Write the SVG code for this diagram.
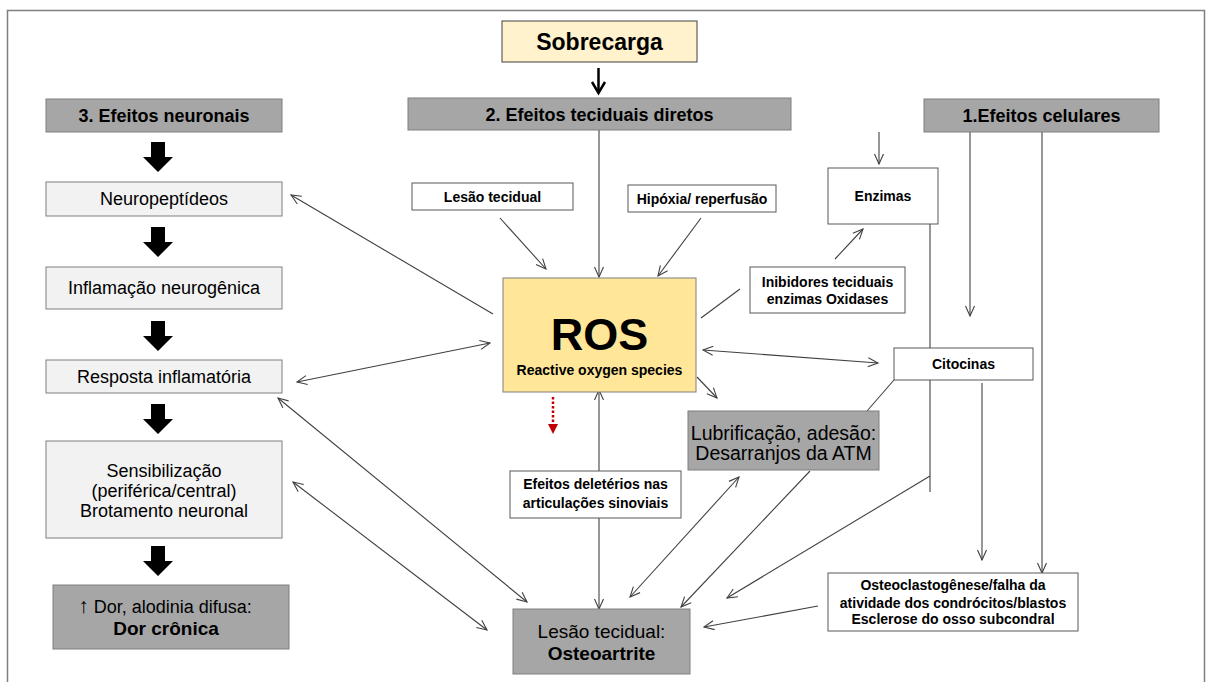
<svg xmlns="http://www.w3.org/2000/svg" width="1207" height="682" viewBox="0 0 1207 682">
<defs>
<style>
.t{font-family:"Liberation Sans",Arial,sans-serif;fill:#000;text-anchor:middle}
.b{font-weight:bold}
.gray{fill:#a6a6a6;stroke:#7f7f7f;stroke-width:1}
.lt{fill:#f2f2f2;stroke:#7f7f7f;stroke-width:1}
.wh{fill:#fff;stroke:#595959;stroke-width:1}
.c{fill:none;stroke:#404040;stroke-width:1.1}
</style>
<marker id="ah" viewBox="0 0 12 12" refX="11" refY="6" markerWidth="12" markerHeight="12" markerUnits="userSpaceOnUse" orient="auto-start-reverse">
<path d="M1,1.5 L11,6 L1,10.5" fill="none" stroke="#404040" stroke-width="1.1"/>
</marker>
<path id="blk" d="M-7,0 H7 V15 H15 L0,30 L-15,15 H-7 Z" fill="#000"/>
</defs>
<rect x="0" y="0" width="1207" height="682" fill="#fff"/>
<rect x="7.5" y="10.5" width="1197" height="700" fill="none" stroke="#7f7f7f" stroke-width="1.5"/>

<g id="connectors">
<path class="c" d="M599,130 V277" marker-end="url(#ah)"/>
<path class="c" d="M500,218 L546,269" marker-end="url(#ah)"/>
<path class="c" d="M701,218 L658,276" marker-end="url(#ah)"/>
<path class="c" d="M493,314 L291,195" marker-end="url(#ah)"/>
<path class="c" d="M490,343 L297,382" marker-start="url(#ah)" marker-end="url(#ah)"/>
<path class="c" d="M703,350 L878,363" marker-start="url(#ah)" marker-end="url(#ah)"/>
<path class="c" d="M701,318 L740,289"/>
<path class="c" d="M835,259 L863,229" marker-end="url(#ah)"/>
<path class="c" d="M879,132 V164" marker-end="url(#ah)"/>
<path class="c" d="M697,377 L717,398" marker-end="url(#ah)"/>
<path class="c" d="M599,609 V390" marker-start="url(#ah)" marker-end="url(#ah)"/>
<path class="c" d="M278,398 L527,602" marker-start="url(#ah)" marker-end="url(#ah)"/>
<path class="c" d="M293,482 L487,630" marker-start="url(#ah)" marker-end="url(#ah)"/>
<path class="c" d="M739,477 L630,597" marker-start="url(#ah)" marker-end="url(#ah)"/>
<path class="c" d="M810,471 L681,607" marker-end="url(#ah)"/>
<path class="c" d="M930,224 V492"/>
<path class="c" d="M930,476 L727,598" marker-end="url(#ah)"/>
<path class="c" d="M894,380 L867,411"/>
<path class="c" d="M982,383 V560" marker-end="url(#ah)"/>
<path class="c" d="M970,122 V316" marker-end="url(#ah)"/>
<path class="c" d="M1042,132 V573" marker-end="url(#ah)"/>
<path class="c" d="M818,606 L704,627" marker-end="url(#ah)"/>
<path d="M598.5,68 V92" fill="none" stroke="#000" stroke-width="2.5"/>
<path d="M592,82 L598.5,93 L605,82" fill="none" stroke="#000" stroke-width="2.5"/>
<path d="M553,397 V424" fill="none" stroke="#c00000" stroke-width="2.5" stroke-dasharray="2.5,2"/>
<path d="M548,424 H558 L553,434 Z" fill="#c00000"/>
<use href="#blk" x="158" y="142"/>
<use href="#blk" x="158" y="227"/>
<use href="#blk" x="158" y="321"/>
<use href="#blk" x="158" y="404"/>
<use href="#blk" x="158" y="546"/>
</g>

<g id="sobrecarga"><rect x="502" y="21" width="195" height="41" fill="#fff2cc" stroke="#404040"/><text class="t b" x="599.5" y="50" font-size="23">Sobrecarga</text></g>
<g id="efeitos-neuronais"><rect class="gray" x="46" y="99" width="236" height="33"/><text class="t b" x="164" y="122" font-size="18">3. Efeitos neuronais</text></g>
<g id="efeitos-teciduais"><rect class="gray" x="408" y="98" width="383" height="32"/><text class="t b" x="599.5" y="121" font-size="18">2. Efeitos teciduais diretos</text></g>
<g id="efeitos-celulares"><rect class="gray" x="924" y="99" width="235" height="33"/><text class="t b" x="1041.5" y="122" font-size="18">1.Efeitos celulares</text></g>
<g id="neuropeptideos"><rect class="lt" x="46" y="182" width="236" height="34"/><text class="t" x="164" y="205" font-size="18">Neuropeptídeos</text></g>
<g id="inflamacao"><rect class="lt" x="46" y="267" width="236" height="42"/><text class="t" x="164" y="294" font-size="18">Inflamação neurogênica</text></g>
<g id="resposta"><rect class="lt" x="46" y="360" width="236" height="33"/><text class="t" x="164" y="383" font-size="18">Resposta inflamatória</text></g>
<g id="sensibilizacao"><rect class="lt" x="46" y="441" width="236" height="97"/><text class="t" x="164" y="477" font-size="18">Sensibilização</text><text class="t" x="164" y="497" font-size="18">(periférica/central)</text><text class="t" x="164" y="517" font-size="18">Brotamento neuronal</text></g>
<g id="dor"><rect class="gray" x="53" y="585" width="236" height="64"/><text class="t" x="165" y="613" font-size="18"><tspan font-size="21">↑</tspan> Dor, alodinia difusa:</text><text class="t b" x="166" y="635" font-size="19">Dor crônica</text></g>
<g id="lesao"><rect class="wh" x="412" y="183" width="161" height="27"/><text class="t b" x="492.5" y="201.5" font-size="14">Lesão tecidual</text></g>
<g id="hipoxia"><rect class="wh" x="628" y="185" width="148" height="27"/><text class="t b" x="702" y="203.5" font-size="14">Hipóxia/ reperfusão</text></g>
<g id="enzimas"><rect class="wh" x="828" y="168" width="110" height="56"/><text class="t b" x="883" y="201" font-size="14">Enzimas</text></g>
<g id="inibidores"><rect class="wh" x="750" y="267" width="155" height="46"/><text class="t b" x="827.5" y="286.5" font-size="14">Inibidores teciduais</text><text class="t b" x="827.5" y="304" font-size="14">enzimas Oxidases</text></g>
<g id="ros"><rect x="503" y="278" width="193" height="114" fill="#ffe699" stroke="#7f7f7f"/><text class="t b" x="599.5" y="350" font-size="45">ROS</text><text class="t b" x="599.5" y="375" font-size="14">Reactive oxygen species</text></g>
<g id="citocinas"><rect class="wh" x="894" y="348" width="139" height="32"/><text class="t b" x="963.5" y="369" font-size="14">Citocinas</text></g>
<g id="lubrificacao"><rect class="gray" x="688" y="411" width="191" height="59"/><text class="t" x="783.5" y="440" font-size="19.5">Lubrificação, adesão:</text><text class="t" x="783.5" y="460" font-size="19.5">Desarranjos da ATM</text></g>
<g id="deleterios"><rect class="wh" x="510" y="471" width="171" height="47"/><text class="t b" x="595.5" y="489" font-size="14">Efeitos deletérios nas</text><text class="t b" x="595.5" y="508" font-size="14">articulações sinoviais</text></g>
<g id="osteoartrite"><rect class="gray" x="513" y="609" width="177" height="65"/><text class="t" x="601.5" y="638" font-size="19">Lesão tecidual:</text><text class="t b" x="601.5" y="660" font-size="19">Osteoartrite</text></g>
<g id="osteoclasto"><rect class="wh" x="828" y="573" width="250" height="58"/><text class="t b" x="953" y="590" font-size="14">Osteoclastogênese/falha da</text><text class="t b" x="953" y="607.5" font-size="14">atividade dos condrócitos/blastos</text><text class="t b" x="953" y="624" font-size="14">Esclerose do osso subcondral</text></g>
</svg>
